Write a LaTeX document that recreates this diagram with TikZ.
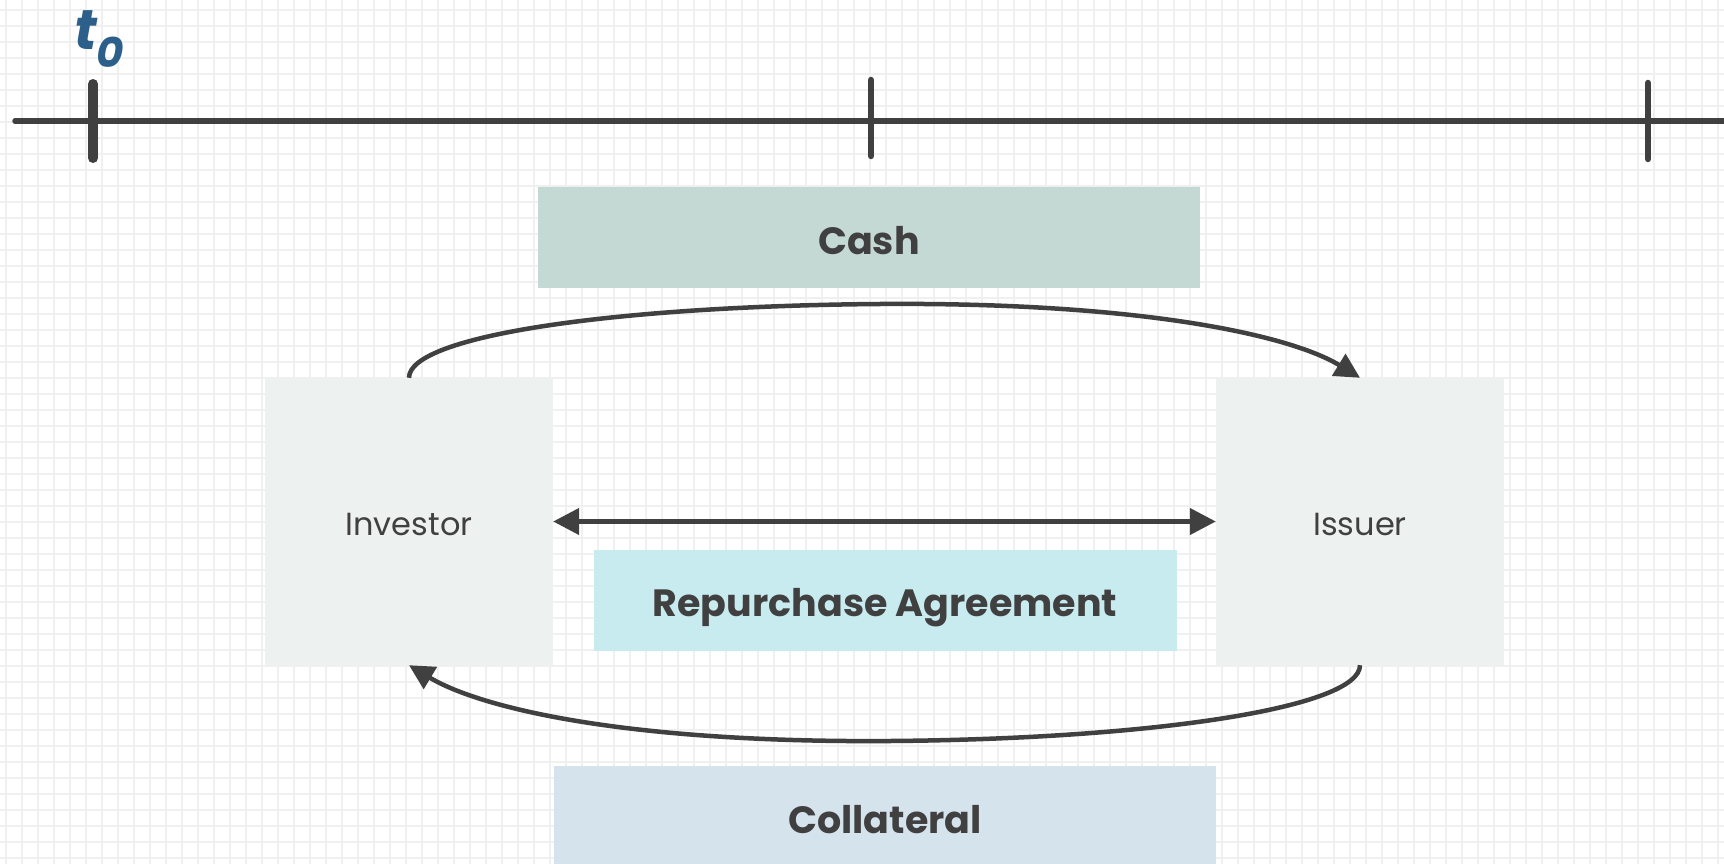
\documentclass[tikz,border=0pt]{standalone}
\usepackage{fontspec}
\setmainfont{Poppins}
\usetikzlibrary{arrows.meta, calc}
\definecolor{InkGray}{RGB}{64, 64, 64}
\definecolor{GridGray}{RGB}{240, 240, 240}
\definecolor{CashGreen}{RGB}{197, 217, 212}
\definecolor{PartyGray}{RGB}{237, 241, 240}
\definecolor{RepoCyan}{RGB}{200, 235, 240}
\definecolor{CollatBlue}{RGB}{213, 227, 237}
\definecolor{TimeBlue}{RGB}{44, 95, 138}

\tikzset{
  gridline/.style={GridGray, line width=1.8pt},
  party/.style={fill=PartyGray, minimum width=288pt, minimum height=287pt, inner sep=0pt,
    text height=27pt, text depth=0pt, text=InkGray, font=\fontsize{32}{38}\selectfont},
  flowbox/.style={minimum width=662pt, minimum height=101pt, inner sep=0pt,
    text height=33pt, text depth=0pt, text=InkGray, font=\bfseries\fontsize{38}{44}\selectfont},
  flow/.style={InkGray, line width=4.5pt, -{Triangle[length=25pt, width=25pt]}},
  tick/.style={InkGray, line cap=round},
}

\begin{document}
\begin{tikzpicture}[x=1pt, y=-1pt]
    \useasboundingbox (0,0) rectangle (1724,864);
    \fill[white] (0,0) rectangle (1724,864);

    % Background grid
    \foreach \gx in {6,22,...,1724}
      \draw[gridline] (\gx,0) -- (\gx,864);
    \foreach \gy in {10,26,...,864}
      \draw[gridline] (0,\gy) -- (1724,\gy);

    % Timeline
    \draw[tick, line width=5.5pt] (15,121) -- (1730,121);
    \draw[tick, line width=10pt] (93,84) -- (93,158);
    \draw[tick, line width=6.5pt] (871,80) -- (871,156);
    \draw[tick, line width=6.5pt] (1648,83) -- (1648,159);
    \node[anchor=base west, inner sep=0pt, text=TimeBlue,
      font=\bfseries\itshape\fontsize{56}{60}\selectfont] (tzero) at (74,50)
      {t\raisebox{-18pt}{\fontsize{42}{42}\selectfont 0}};

    % Boxes
    \node[flowbox, fill=CashGreen] (cash) at (869,237.5) {Cash};
    \node[party] (investor) at (409,521.5) {Investor};
    \node[party] (issuer) at (1360,521.5) {Issuer};
    \node[flowbox, fill=RepoCyan, minimum width=583pt] (repo) at (885,600) {Repurchase Agreement};
    \node[flowbox, fill=CollatBlue] (collateral) at (885,816.5) {Collateral};

    % Cash goes over, collateral comes back
    \draw[flow] (investor.north) .. controls (409,335) and (620,306) .. (880,304)
      .. controls (1140,302) and (1290,335) .. (issuer.north);
    \draw[flow] (issuer.south) .. controls (1360,708) and (1150,739) .. (890,741)
      .. controls (630,743) and (482,709) .. (investor.south);
    \draw[InkGray, line width=4.5pt, {Triangle[length=26pt, width=26pt]}-{Triangle[length=26pt, width=26pt]}]
      (investor.east) -- (issuer.west);
\end{tikzpicture}
\end{document}
